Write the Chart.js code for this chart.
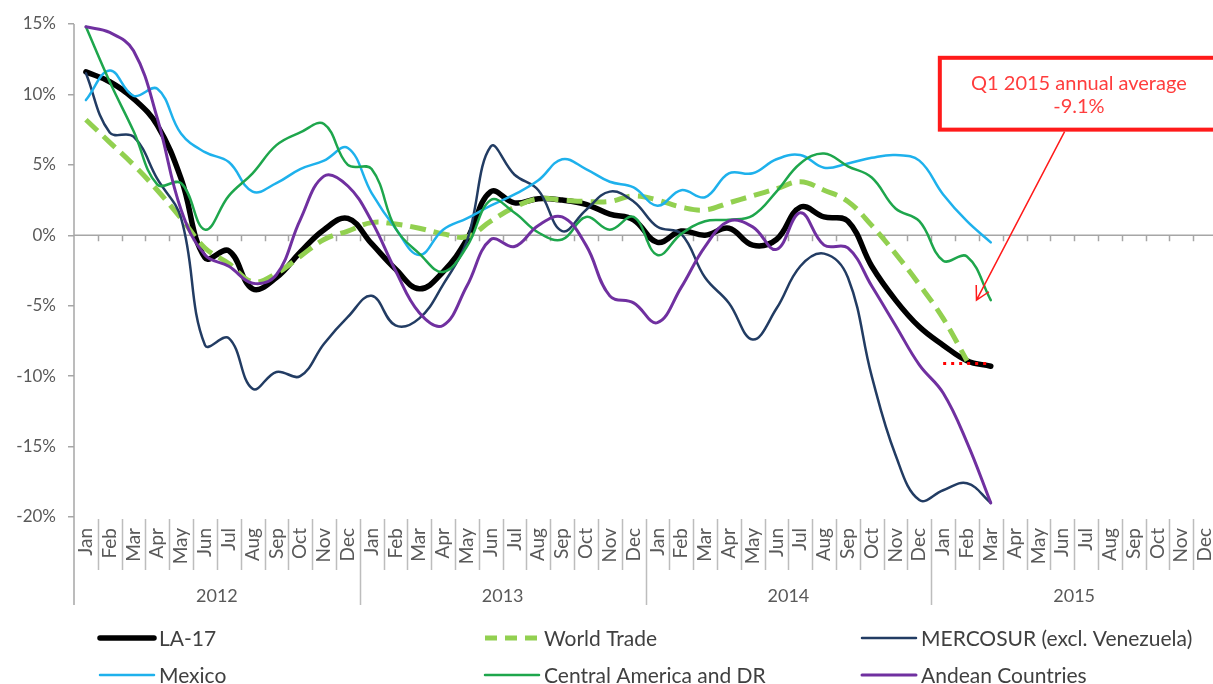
<!DOCTYPE html>
<html>
<head>
<meta charset="utf-8">
<script src="https://cdn.jsdelivr.net/npm/chart.js@4.4.1/dist/chart.umd.min.js"></script>
<style>
  html, body { margin: 0; padding: 0; background: #ffffff; overflow: hidden; }
  #wrap { position: relative; width: 1220px; height: 684px; }
</style>
</head>
<body>
<div id="wrap"><canvas id="chart"></canvas></div>
<script>
// Month ticks and year groups of the category axis
const months = ['Jan','Feb','Mar','Apr','May','Jun','Jul','Aug','Sep','Oct','Nov','Dec'];
const years = ['2012','2013','2014','2015'];
const categories = years.flatMap(() => months);

// Year-on-year growth of export values, % (Jan 2012 onwards)
const la17 = [
  11.6, 10.9, 9.7, 7.8, 4.0, -1.6, -1.1, -3.8, -3.0, -1.2, 0.4, 1.2,
  -0.6, -2.4, -3.8, -2.6, -0.3, 3.1, 2.3, 2.6, 2.5, 2.2, 1.5, 1.1,
  -0.5, 0.3, 0.0, 0.5, -0.7, -0.3, 2.0, 1.3, 1.0, -2.2, -4.6, -6.5,
  -7.8, -8.9, -9.3
];
const worldTrade = [
  8.2, 6.6, 5.0, 3.2, 1.2, -0.9, -2.0, -3.3, -2.7, -1.5, -0.3, 0.3,
  0.9, 0.8, 0.5, 0.1, -0.1, 1.0, 2.0, 2.6, 2.5, 2.4, 2.4, 2.8,
  2.5, 2.0, 1.8, 2.3, 2.8, 3.3, 3.8, 3.2, 2.4, 0.7, -1.3, -3.5,
  -5.9, -8.9
];
const mercosur = [
  11.5, 7.3, 7.0, 4.0, 1.2, -7.8, -7.3, -10.9, -9.7, -10.0, -7.7, -5.8,
  -4.3, -6.4, -5.9, -3.5, -0.4, 6.3, 4.3, 3.2, 0.3, 1.8, 3.1, 2.4,
  0.6, 0.1, -3.0, -4.8, -7.4, -5.2, -2.2, -1.3, -3.0, -10.0, -15.6, -18.8,
  -18.1, -17.6, -19.0
];
const mexico = [
  9.6, 11.7, 9.9, 10.4, 7.2, 5.9, 5.2, 3.1, 3.7, 4.7, 5.3, 6.2,
  3.0, 0.5, -1.4, 0.4, 1.2, 2.1, 2.9, 3.9, 5.4, 4.7, 3.8, 3.4,
  2.1, 3.2, 2.7, 4.4, 4.4, 5.4, 5.7, 4.8, 5.1, 5.5, 5.7, 5.3,
  2.9, 1.0, -0.5
];
const centralAmerica = [
  14.8, 10.9, 7.4, 3.6, 3.7, 0.4, 2.8, 4.4, 6.4, 7.3, 7.9, 5.0,
  4.7, 0.5, -1.3, -2.6, -0.8, 2.5, 1.6, 0.2, -0.3, 1.3, 0.4, 1.3,
  -1.4, 0.1, 1.0, 1.1, 1.4, 3.1, 5.1, 5.8, 4.9, 4.1, 1.9, 1.0,
  -1.8, -1.5, -4.6
];
const andean = [
  14.8, 14.4, 13.1, 8.3, 1.8, -1.4, -2.2, -3.4, -2.8, 1.1, 4.2, 3.5,
  1.0, -2.5, -5.5, -6.4, -3.6, -0.3, -0.8, 0.7, 1.3, -0.7, -4.3, -4.8,
  -6.2, -3.7, -0.8, 1.0, 0.6, -1.0, 1.6, -0.7, -0.9, -3.6, -6.4, -9.2,
  -11.2, -14.7, -19.0
];

// LA-17 annual average for the first quarter of 2015
const q1Average = -9.1;
const q1Months = [36, 37, 38];
const q1Line = categories.map((_, i) => (q1Months.includes(i) ? q1Average : null));

const yTickValues = [-20, -15, -10, -5, 0, 5, 10, 15];

const AXIS_GREY = '#a6a6a6';
const SEP_GREY = '#bdbdbd';
const TEXT_GREY = '#595959';
const RED = '#ff1a1a';

Chart.defaults.font.family = 'Lato, "Open Sans", sans-serif';
Chart.defaults.color = TEXT_GREY;

// Axis frame, month/year separators and year captions
const framePlugin = {
  id: 'frame',
  beforeDatasetsDraw(chart) {
    const { ctx, chartArea: a, scales: { x, y } } = chart;
    const n = categories.length;
    const y0 = y.getPixelForValue(0);
    const sepBottom = a.bottom + 53;
    const yearBottom = a.bottom + 88;
    ctx.save();
    ctx.lineWidth = 1.5;
    ctx.strokeStyle = AXIS_GREY;
    ctx.beginPath();
    ctx.moveTo(a.left, y0);
    ctx.lineTo(a.right, y0);
    for (let k = 1; k <= n; k++) {
      const bx = Math.round(x.getPixelForValue(k - 0.5)) + 0.5;
      ctx.moveTo(bx, y0);
      ctx.lineTo(bx, y0 + 6);
    }
    ctx.stroke();
    ctx.beginPath();
    ctx.moveTo(a.left, a.top);
    ctx.lineTo(a.left, yearBottom);
    ctx.stroke();
    ctx.strokeStyle = SEP_GREY;
    ctx.beginPath();
    for (let k = 1; k <= n; k++) {
      const bx = Math.round(x.getPixelForValue(k - 0.5)) + 0.5;
      ctx.moveTo(bx, a.bottom + 2);
      ctx.lineTo(bx, k % 12 === 0 ? yearBottom : sepBottom);
    }
    ctx.stroke();
    ctx.fillStyle = TEXT_GREY;
    ctx.font = '18px Lato, "Open Sans", sans-serif';
    ctx.textAlign = 'center';
    ctx.textBaseline = 'middle';
    years.forEach((yr, g) => {
      const cx = (x.getPixelForValue(g * 12 - 0.5) + x.getPixelForValue(g * 12 + 11.5)) / 2;
      ctx.fillText(yr, cx, a.bottom + 79);
    });
    ctx.restore();
  },
  afterDraw(chart) {
    const { ctx, chartArea: a, scales: { x, y } } = chart;
    ctx.save();

    // Two-row legend in three columns
    const cols = [100, 485, 862];
    const rows = [a.bottom + 121, a.bottom + 158];
    const items = chart.data.datasets.filter(d => d.legend);
    ctx.font = '21px Lato, "Open Sans", sans-serif';
    ctx.textBaseline = 'middle';
    ctx.textAlign = 'left';
    items.forEach((d, i) => {
      const lx = cols[i % 3];
      const ly = rows[Math.floor(i / 3)];
      ctx.save();
      ctx.strokeStyle = d.borderColor;
      ctx.lineWidth = d.borderWidth;
      ctx.lineCap = d.borderDash ? 'butt' : 'round';
      ctx.setLineDash(d.borderDash ? [12, 8] : []);
      ctx.beginPath();
      ctx.moveTo(lx, ly);
      ctx.lineTo(lx + 54, ly);
      ctx.stroke();
      ctx.restore();
      ctx.fillStyle = '#404040';
      ctx.fillText(d.label, lx + 59, ly + 1);
    });

    // Call-out box with arrow pointing at the end of the series
    const bl = x.getPixelForValue(35.86);
    const bt = y.getPixelForValue(12.6);
    const bb = y.getPixelForValue(7.5);
    ctx.fillStyle = '#ffffff';
    ctx.fillRect(bl, bt, chart.width - bl + 20, bb - bt);
    ctx.strokeStyle = RED;
    ctx.lineWidth = 4;
    ctx.strokeRect(bl, bt, chart.width - bl + 20, bb - bt);
    ctx.fillStyle = '#ff3d3d';
    ctx.font = '20px Lato, "Open Sans", sans-serif';
    ctx.textAlign = 'center';
    const tx = x.getPixelForValue(41.7);
    ctx.fillText('Q1 2015 annual average', tx, y.getPixelForValue(10.8));
    ctx.fillText(q1Average.toFixed(1) + '%', tx, y.getPixelForValue(9.15));

    const sx = x.getPixelForValue(41.1), sy = bb + 2;
    const ex = x.getPixelForValue(37.4), ey = y.getPixelForValue(-4.6);
    ctx.strokeStyle = RED;
    ctx.lineWidth = 1.5;
    ctx.beginPath();
    ctx.moveTo(sx, sy);
    ctx.lineTo(ex, ey);
    const ang = Math.atan2(sy - ey, sx - ex);
    const len = 15, spread = 0.5;
    ctx.moveTo(ex + len * Math.cos(ang - spread), ey + len * Math.sin(ang - spread));
    ctx.lineTo(ex, ey);
    ctx.lineTo(ex + len * Math.cos(ang + spread), ey + len * Math.sin(ang + spread));
    ctx.stroke();
    ctx.restore();
  }
};

const line = (label, data, color, width, order, extra = {}) => Object.assign({
  label, data, borderColor: color, backgroundColor: color, borderWidth: width,
  pointRadius: 0, pointHoverRadius: 0, tension: 0.4, fill: false,
  borderCapStyle: 'round', borderJoinStyle: 'round', order, legend: true
}, extra);

new Chart(document.getElementById('chart'), {
  type: 'line',
  data: {
    labels: categories,
    datasets: [
      line('LA-17', la17, '#000000', 5.5, 6),
      line('World Trade', worldTrade, '#92d050', 5, 5, { borderDash: [16, 8], borderCapStyle: 'butt' }),
      line('MERCOSUR (excl. Venezuela)', mercosur, '#223c63', 2.5, 4),
      line('Mexico', mexico, '#1eb1ec', 2.5, 3),
      line('Central America and DR', centralAmerica, '#1ea64c', 2.5, 2),
      line('Andean Countries', andean, '#7030a0', 3, 1),
      line('Q1 2015 average', q1Line, '#ff0000', 3, 0,
        { borderDash: [3, 5], borderCapStyle: 'butt', tension: 0, legend: false })
    ]
  },
  options: {
    responsive: true,
    maintainAspectRatio: false,
    animation: false,
    events: [],
    layout: { padding: { top: 24, right: 3, bottom: 0, left: 0 } },
    plugins: { legend: { display: false }, tooltip: { enabled: false } },
    scales: {
      x: {
        type: 'category',
        offset: true,
        grid: { display: false, drawTicks: false },
        border: { display: false },
        ticks: {
          autoSkip: false, minRotation: 90, maxRotation: 90, padding: 11,
          color: TEXT_GREY, font: { size: 19 }
        },
        afterFit(scale) {
          scale.height = 167;
          scale.paddingLeft = 0;
          scale.paddingRight = 0;
        }
      },
      y: {
        min: -20, max: 15,
        afterBuildTicks(scale) { scale.ticks = yTickValues.map(v => ({ value: v })); },
        grid: { drawOnChartArea: false, drawTicks: true, tickLength: 6, color: AXIS_GREY, lineWidth: 1.5 },
        border: { display: false },
        ticks: {
          padding: 12, color: TEXT_GREY, font: { size: 17 },
          callback: v => v + '%'
        },
        afterFit(scale) {
          scale.width = 74;
          scale.paddingTop = 0;
          scale.paddingBottom = 0;
        }
      }
    }
  },
  plugins: [framePlugin]
});
</script>
</body>
</html>
